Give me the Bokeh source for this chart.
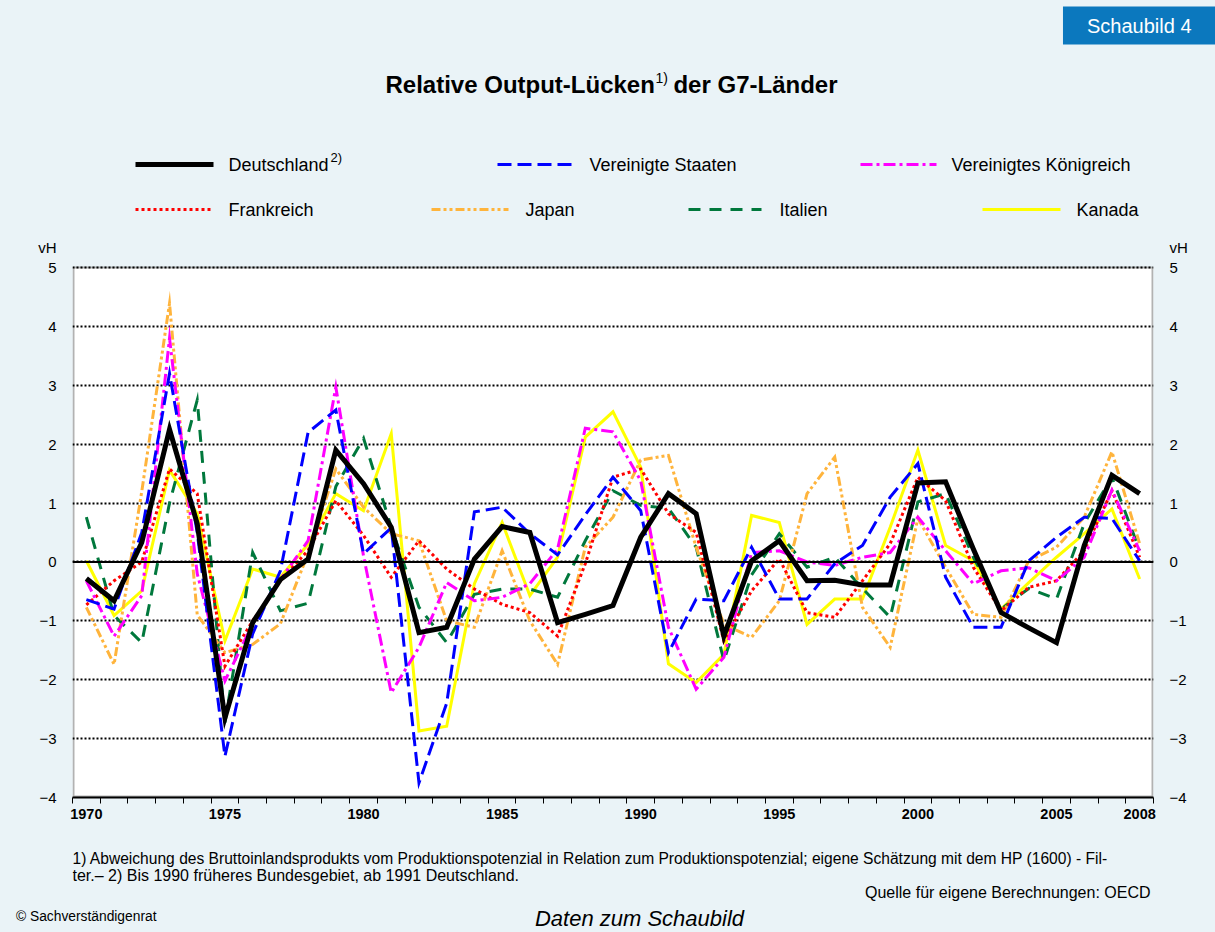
from bokeh.plotting import figure
from bokeh.layouts import column
from bokeh.models import Range1d, FixedTicker, Span, LinearAxis, BoxAnnotation
from bokeh.core.properties import value
from bokeh.embed import file_html
from bokeh.resources import INLINE

# ---------------- data ----------------
years = list(range(1970, 2009))
year_labels = [1970, 1975, 1980, 1985, 1990, 1995, 2000, 2005, 2008]
y_ticks = [-4, -3, -2, -1, 0, 1, 2, 3, 4, 5]
unit_label = "vH"

deutschland = [-0.28, -0.66, 0.33, 2.25, 0.65, -2.65, -1.03, -0.30, 0.05, 1.90,
               1.33, 0.59, -1.20, -1.11, 0.05, 0.60, 0.50, -1.03, -0.89, -0.74,
               0.42, 1.16, 0.82, -1.26, 0.02, 0.36, -0.32, -0.31, -0.39, -0.39,
               1.34, 1.36, 0.22, -0.86, -1.12, -1.37, 0.28, 1.47, 1.16]
usa = [-0.64, -0.80, 0.50, 3.20, 0.50, -3.30, -1.22, -0.15, 2.20, 2.58,
       0.14, 0.58, -3.75, -2.40, 0.85, 0.93, 0.48, 0.12, 0.80, 1.44,
       0.87, -1.54, -0.63, -0.66, 0.25, -0.63, -0.63, -0.03, 0.28, 1.10,
       1.67, -0.26, -1.11, -1.11, 0.02, 0.42, 0.76, 0.74, 0.02]
uk = [-0.32, -1.26, -0.57, 3.80, -0.20, -2.02, -1.05, -0.30, 0.36, 2.97,
      0.10, -2.22, -1.45, -0.35, -0.66, -0.60, -0.37, 0.22, 2.27, 2.21,
      1.38, -1.11, -2.16, -1.62, 0.16, 0.19, 0.00, -0.06, 0.08, 0.16,
      0.76, 0.19, -0.37, -0.15, -0.10, -0.32, 0.08, 1.22, 0.19]
frankreich = [-0.73, -0.32, 0.00, 1.58, 1.16, -1.77, -1.00, -0.32, 0.20, 1.04,
              0.45, -0.26, 0.36, -0.12, -0.46, -0.72, -0.86, -1.26, -0.03, 1.44,
              1.58, 0.82, 0.50, -1.34, -0.49, 0.05, -0.86, -0.94, -0.32, 0.31,
              1.44, 1.04, -0.09, -0.83, -0.43, -0.32, 0.19, 1.21, 0.08]
japan = [-0.77, -1.74, 1.20, 4.39, -0.90, -1.54, -1.40, -1.05, 0.14, 1.58,
         0.93, 0.48, 0.36, -1.00, -1.11, 0.19, -1.00, -1.74, 0.25, 0.76,
         1.73, 1.81, 0.25, -1.06, -1.28, -0.66, 1.16, 1.78, -0.77, -1.45,
         0.74, -0.09, -0.89, -0.94, 0.02, 0.25, 0.76, 1.87, 0.31]
italien = [0.76, -0.91, -1.37, 1.00, 2.75, -2.73, 0.16, -0.83, -0.70, 1.28,
           2.10, 0.59, -0.77, -1.37, -0.55, -0.46, -0.46, -0.60, 0.36, 1.21,
           0.96, 0.91, 0.25, -1.68, -0.22, 0.48, -0.09, 0.08, -0.45, -0.94,
           1.02, 1.16, 0.08, -0.80, -0.45, -0.63, 0.65, 1.44, 0.20]
kanada = [0.02, -0.91, -0.49, 1.56, 0.82, -1.34, -0.12, -0.26, 0.30, 1.16,
          0.87, 2.18, -2.87, -2.79, -0.37, 0.67, -0.57, 0.08, 2.12, 2.55,
          1.61, -1.73, -2.05, -1.57, 0.79, 0.67, -1.06, -0.63, -0.63, 0.59,
          1.90, 0.28, 0.02, -0.80, -0.35, 0.08, 0.48, 0.90, -0.29]

# ---------------- styles ----------------
FONT = "Liberation Sans"
BG = "#EAF3F7"
W = 1215
FL, FR = 72, 1153          # plot frame, page pixels (left / right)
BL, BR = FL, W - FR        # side borders shared by all stacked figures

series = [
    # name, data, color, width, dash
    ("Kanada", kanada, "#FFFF00", 3, "solid"),
    ("Italien", italien, "#00783C", 3, "12 9"),
    ("Japan", japan, "#FFB43C", 3, "9 3 3 3 3 3"),
    ("Frankreich", frankreich, "#FF0000", 3, "3 3"),
    ("Vereinigtes Königreich", uk, "#FF00FF", 3, "12 4 3 4"),
    ("Vereinigte Staaten", usa, "#0000FF", 3, "14 6"),
    ("Deutschland", deutschland, "#000000", 5, "solid"),
]
style = {s[0]: s for s in series}


def pix_fig(h, y0, top_border=0, **kw):
    f = figure(width=W, height=h, x_range=Range1d(FL, FR), y_range=Range1d(y0 + h, y0 + top_border),
               output_backend="svg", toolbar_location=None, min_border=0,
               min_border_left=BL, min_border_right=BR, min_border_top=top_border,
               min_border_bottom=0, x_axis_location=None, y_axis_location=None, **kw)
    f.grid.visible = False
    f.outline_line_color = None
    f.background_fill_color = None
    f.border_fill_color = BG
    return f


def txt(f, x, y, s, size, color="black", align="left", style_="normal"):
    f.text(x=[x], y=[y], text=[s], text_font=value(FONT), text_font_size=value(size),
           text_color=color, text_align=align, text_baseline="middle", text_font_style=style_)


# ---------------- top: header, title, legend ----------------
top = pix_fig(238, 0, top_border=46, title="Schaubild 4")
top.title.align = "right"
top.title.offset = -62
top.title.standoff = 4
top.title.text_font = FONT
top.title.text_font_size = "20px"
top.title.text_font_style = "normal"
top.title.text_color = "white"
top.title.background_fill_color = "#0B78BE"
top.title.padding = dict(x=24, y=8)

txt(top, 385, 84, "Relative Output-Lücken", "24px", style_="bold")
txt(top, 655, 77, "1)", "14px")
txt(top, 837, 84, "der G7-Länder", "24px", style_="bold", align="right")

legend_items = [
    ("Deutschland", 135, 213, 228, 164),
    ("Vereinigte Staaten", 497, 573, 589, 164),
    ("Vereinigtes Königreich", 860, 936, 951, 164),
    ("Frankreich", 135, 210, 228, 209),
    ("Japan", 431, 508, 525, 209),
    ("Italien", 688, 761, 779, 209),
    ("Kanada", 982, 1060, 1076, 209),
]
for name, x0, x1, xt, yy in legend_items:
    _, _, col, lw, dash = style[name]
    top.line(x=[x0, x1], y=[yy, yy], line_color=col, line_width=lw, line_dash=dash)
    txt(top, xt, yy, name, "18px")
txt(top, 330, 157, "2)", "13px")

# ---------------- main chart ----------------
Y_TOP = 5.3736          # a little head-room above 5 for the "vH" unit labels
p = figure(width=W, height=602, x_range=Range1d(1969.5, 2008.5), y_range=Range1d(-4, Y_TOP),
           output_backend="svg", toolbar_location=None,
           min_border_left=BL, min_border_right=BR, min_border_top=7, min_border_bottom=43)
p.background_fill_color = None
p.border_fill_color = BG
p.outline_line_color = None

# white plotting area and its black frame
px_per_year = (FR - FL) / 39.0
px_per_unit = 530 / 9.0
p.add_layout(BoxAnnotation(left=1969.5, right=2008.5, bottom=-4, top=5, fill_color="white",
                           fill_alpha=1, line_color=None, level="image"))
p.add_layout(BoxAnnotation(left=1969.5 + 1 / px_per_year, right=2008.5 - 1 / px_per_year,
                           bottom=-4 + 1 / px_per_unit, top=5, fill_alpha=0,
                           line_color="black", line_width=2, level="overlay"))

p.xgrid.visible = False
p.ygrid.ticker = FixedTicker(ticks=y_ticks)
p.ygrid.grid_line_color = "black"
p.ygrid.grid_line_dash = "2 2"
p.ygrid.grid_line_width = 2

xax = p.xaxis[0]
xax.ticker = FixedTicker(ticks=year_labels, minor_ticks=[y - 0.5 for y in years] + [2008.5])
xax.major_tick_line_color = None
xax.major_tick_out = 6
xax.major_tick_in = 0
xax.minor_tick_out = 6
xax.minor_tick_in = 0
xax.minor_tick_line_color = "black"
xax.minor_tick_line_width = 1
xax.axis_line_color = "black"
xax.axis_line_width = 2
xax.major_label_standoff = 5
xax.major_label_text_font = FONT
xax.major_label_text_font_size = "14.5px"
xax.major_label_text_font_style = "bold"
xax.major_label_text_color = "black"

yax_l = p.yaxis[0]
yax_r = LinearAxis()
p.add_layout(yax_r, "right")
for ax in (yax_l, yax_r):
    ax.ticker = FixedTicker(ticks=y_ticks + [5.37])
    ax.major_label_overrides = {5.37: unit_label}
    ax.major_tick_out = 0
    ax.major_tick_in = 0
    ax.minor_tick_out = 0
    ax.minor_tick_in = 0
    ax.axis_line_color = None
    ax.major_label_standoff = 16
    ax.major_label_text_font = FONT
    ax.major_label_text_font_size = "15px"
    ax.major_label_text_color = "black"

p.add_layout(Span(location=0, dimension="width", line_color="black", line_width=2))

for name, data, col, lw, dash in series:
    p.line(x=years, y=data, line_color=col, line_width=lw, line_dash=dash, line_join="miter")

# ---------------- bottom: notes ----------------
bot = pix_fig(92, 840)
txt(bot, 72, 858, "1) Abweichung des Bruttoinlandsprodukts vom Produktionspotenzial in Relation zum "
    "Produktionspotenzial; eigene Schätzung mit dem HP (1600) - Fil-", "15.6px")
txt(bot, 72, 875, "ter.– 2) Bis 1990 früheres Bundesgebiet, ab 1991 Deutschland.", "16px")
txt(bot, 1150, 892, "Quelle für eigene Berechnungen: OECD", "16px", align="right")
txt(bot, 639, 918, "Daten zum Schaubild", "22px", align="center", style_="italic")

# copyright note sits in the left margin: shown as a label of a bare left axis
copy_axis = LinearAxis(ticker=FixedTicker(ticks=[916]),
                       major_label_overrides={916: "© Sachverständigenrat"})
copy_axis.axis_line_color = None
copy_axis.major_tick_line_color = None
copy_axis.minor_tick_line_color = None
copy_axis.major_tick_out = 0
copy_axis.major_tick_in = 0
copy_axis.minor_tick_out = 0
copy_axis.minor_tick_in = 0
copy_axis.major_label_standoff = -84
copy_axis.major_label_text_font = FONT
copy_axis.major_label_text_font_size = "13.8px"
copy_axis.major_label_text_color = "black"
bot.add_layout(copy_axis, "left")

layout = column(top, p, bot, spacing=0, styles={"background-color": BG})
open("out.html", "w").write(file_html(layout, INLINE))
